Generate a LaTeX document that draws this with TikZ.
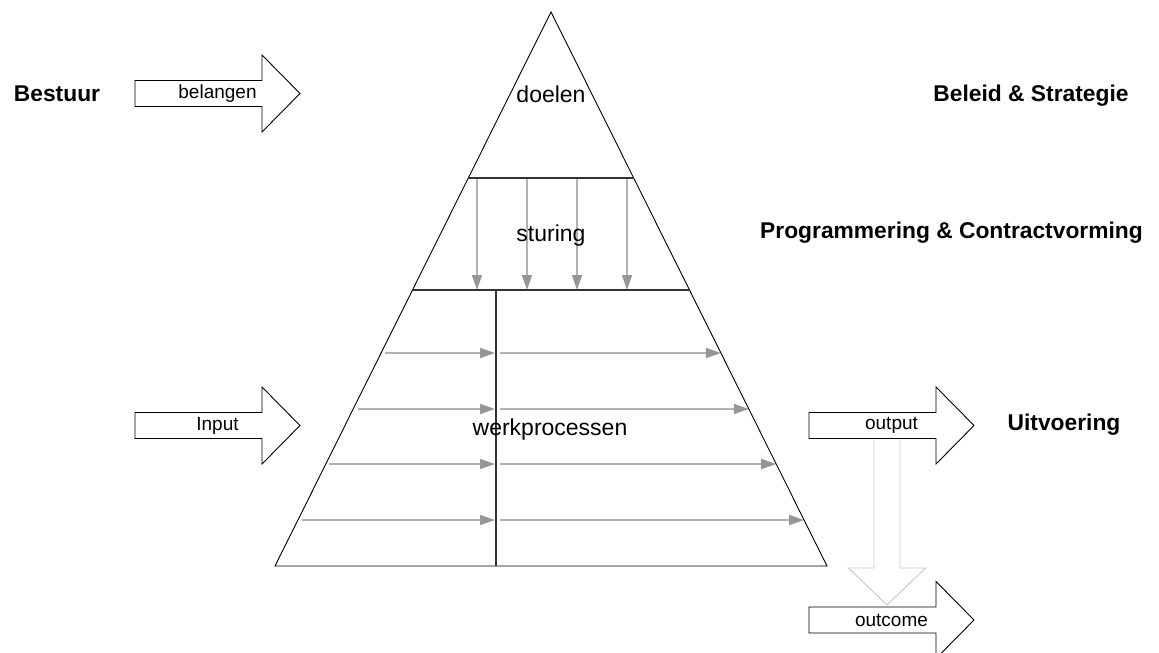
\documentclass[tikz,border=0pt]{standalone}
\usepackage{fontspec}
\setmainfont{Liberation Sans}
\usetikzlibrary{arrows.meta}

\definecolor{flowline}{RGB}{178,178,178}
\definecolor{flowhead}{RGB}{150,150,150}
\definecolor{divider}{RGB}{50,50,50}
\definecolor{paleout}{RGB}{200,200,200}

\tikzset{
  levellabel/.style={font=\fontsize{22.8}{26}\selectfont\bfseries, anchor=base, inner sep=0pt},
  layerlabel/.style={font=\fontsize{23}{27}\selectfont, anchor=base, inner sep=0pt},
  arrowlabel/.style={font=\fontsize{19}{22}\selectfont, inner sep=0pt},
  blockshape/.style={draw=black, line width=0.9pt, fill=white, line join=miter},
  flow/.style={draw=flowline, line width=1.6pt,
    -{Triangle[length=15pt,width=10pt,color=flowhead,fill=flowhead]}},
  outline/.style={draw=black, line width=0.9pt},
}

% block arrow pointing right: name, left x, centre y, text
\newcommand\rightblock[4]{%
  \coordinate (#1-tail) at (#2,#3);
  \coordinate (#1-tip) at (#2+165,#3);
  \draw[blockshape] (#2,#3-13) -- (#2+127,#3-13) -- (#2+127,#3-38.5)
    -- (#1-tip) -- (#2+127,#3+38.5) -- (#2+127,#3+13) -- (#2,#3+13) -- cycle;
  \node[arrowlabel] (#1) at (#2+82.5,#3) {#4};
}

\begin{document}
\begin{tikzpicture}[x=1pt,y=-1pt]
\path[use as bounding box] (0,0) rectangle (1159,653);

% pyramid corners and layer boundaries
\coordinate (apex) at (551,12);
\coordinate (bl) at (275,566);
\coordinate (br) at (827,566);
\coordinate (l1l) at (468.3,178);
\coordinate (l1r) at (633.7,178);
\coordinate (l2l) at (412.5,290);
\coordinate (l2r) at (689.5,290);
\coordinate (divt) at (496,290);
\coordinate (divb) at (496,566);

% steering arrows between top and middle layer
\foreach \x [count=\i] in {477,527,577,627}{
  \coordinate (st\i) at (\x,178);
  \coordinate (sb\i) at (\x,290);
  \draw[flow] (st\i) -- (sb\i);
}

% process flows in the bottom layer
\foreach \y/\xs/\xe [count=\i] in {353/385/720.9, 409/357.5/748.8, 464/329/776.2, 520/302/804.1}{
  \coordinate (fa\i) at (\xs,\y);
  \coordinate (fb\i) at (495,\y);
  \coordinate (fc\i) at (500,\y);
  \coordinate (fd\i) at (\xe,\y);
  \draw[flow] (fa\i) -- (fb\i);
  \draw[flow] (fc\i) -- (fd\i);
}

% outline and layers
\draw[outline, line join=miter] (apex) -- (bl) -- (br) -- cycle;
\draw[draw=divider, line width=1.4pt] (l1l) -- (l1r);
\draw[draw=divider, line width=1.4pt] (l2l) -- (l2r);
\draw[draw=divider, line width=2pt] (divt) -- (divb);

\node[layerlabel] (doelen) at (551,102) {doelen};
\node[layerlabel] (sturing) at (551,241) {sturing};
\node[layerlabel] (werk) at (550,435) {werkprocessen};

% level labels
\node[levellabel] (bestuur) at (57,101) {Bestuur};
\node[levellabel] (beleid) at (1031,101) {Beleid \& Strategie};
\node[levellabel] (prog) at (951.5,238) {Programmering \& Contractvorming};
\node[levellabel] (uitv) at (1064,430) {Uitvoering};

% block arrows
\rightblock{belangen}{135}{93.5}{belangen}
\rightblock{input}{135}{425.5}{Input}
\rightblock{output}{809}{425.5}{output}
\rightblock{outcome}{809}{620}{outcome}

% result arrow from output down to outcome
\coordinate (down-top) at (887,440);
\coordinate (down-tip) at (887,605);
\draw[blockshape, draw=paleout, fill=none] (874,440) -- (874,568) -- (848.5,568)
  -- (down-tip) -- (925.5,568) -- (900,568) -- (900,440);

\end{tikzpicture}
\end{document}
